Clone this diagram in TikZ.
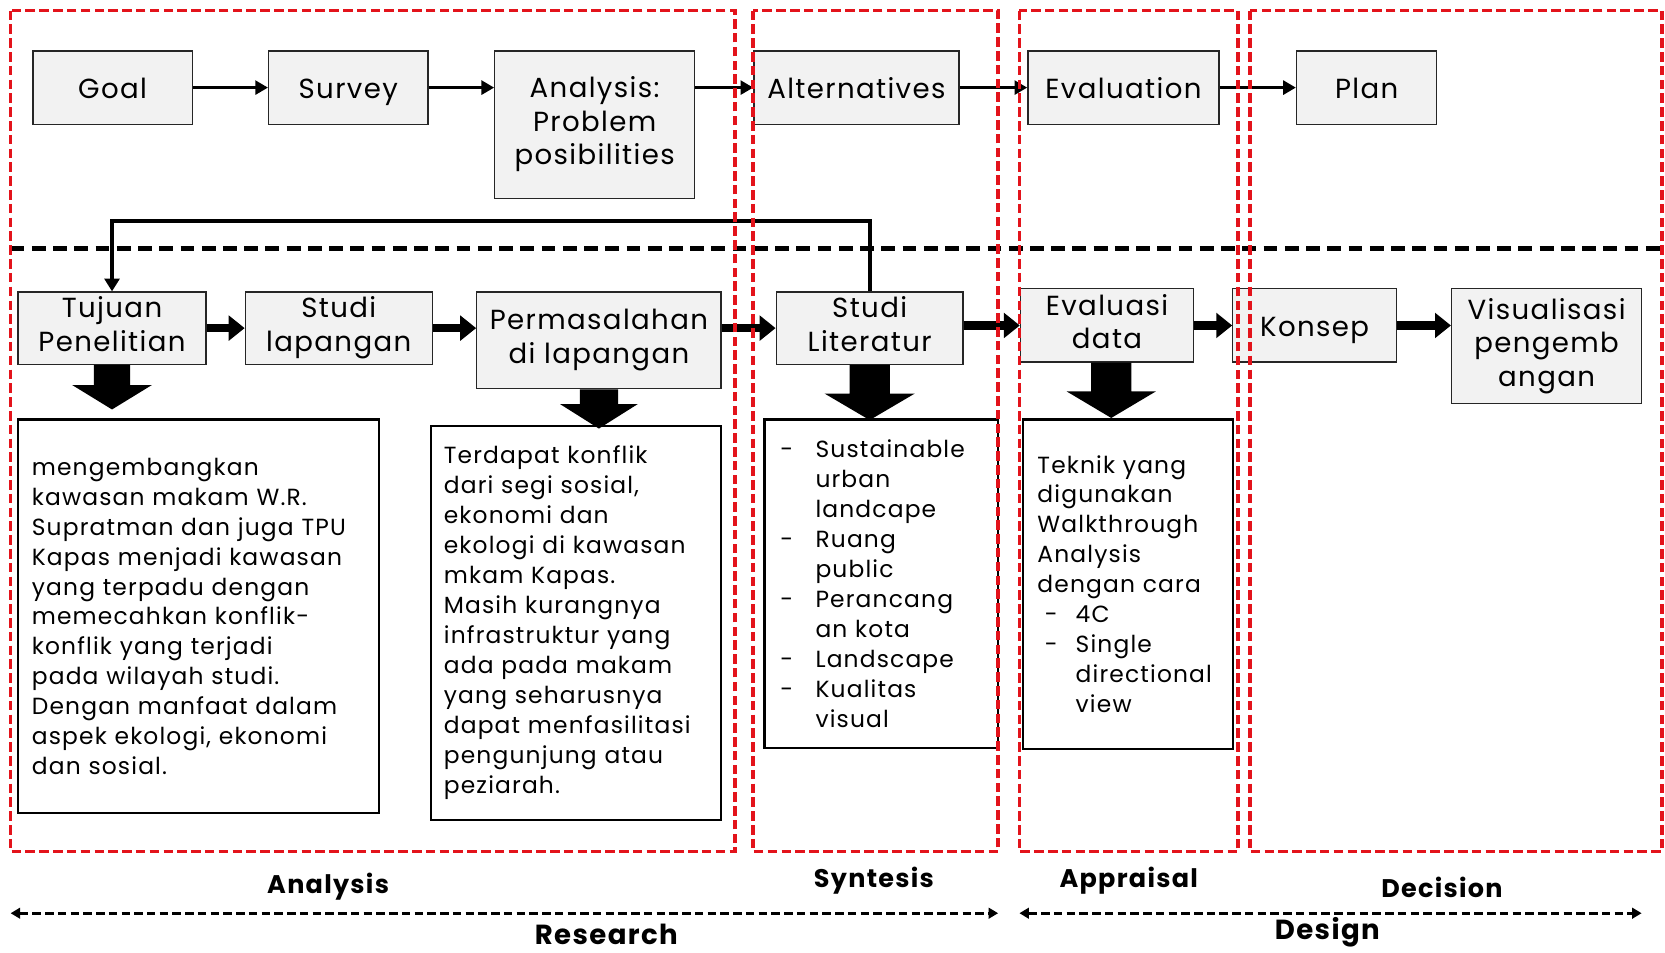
\documentclass[tikz,border=0pt]{standalone}
\usepackage{fontspec}
\setmainfont{Poppins}[LetterSpace=5]
\usetikzlibrary{arrows.meta,calc}
\definecolor{boxgray}{HTML}{F2F2F2}
\definecolor{dred}{HTML}{E3131B}
\newcommand\bdarrow[5]{%
\fill ($(#1)+({-#3/2},0)$) -- ($(#1)+({-#3/2},{#2-#5})$) -- ($(#1)+({-#4/2},{#2-#5})$) -- ($(#1)+(0,#2)$) -- ($(#1)+({#4/2},{#2-#5})$) -- ($(#1)+({#3/2},{#2-#5})$) -- ($(#1)+({#3/2},0)$) -- cycle;}
\begin{document}
\begin{tikzpicture}[x=1pt,y=-1pt,
  gbox/.style={draw=black!85, line width=1.2pt, fill=boxgray, align=center, inner sep=0pt, font=\fontsize{26}{31.5}\selectfont,
    execute at begin node=\rule{0pt}{28pt}, execute at end node=\rule[-7.5pt]{0pt}{7.5pt}},
  tbox/.style={draw=black, line width=2pt, fill=white, align=left, inner xsep=13pt, inner ysep=0pt, font=\fontsize{22}{28.2}\selectfont},
  tarr/.style={line width=3pt, -{Triangle[length=12pt,width=13pt]}},
  barr/.style={line width=8pt, -{Triangle[length=15pt,width=23pt]}},
  reddash/.style={draw=dred, line width=3.5pt, dash pattern=on 9pt off 4pt},
  blackdash/.style={draw=black, line width=4pt, dash pattern=on 13pt off 7pt},
  spanarrow/.style={line width=2.5pt, dash pattern=on 8pt off 4pt, {Triangle[length=9pt,width=10pt]}-{Triangle[length=9pt,width=10pt]}},
  lbl/.style={font=\fontsize{24}{28}\selectfont\bfseries, inner sep=0pt}
]
\useasboundingbox (0,0) rectangle (1568,897);
\fill[white] (0,0) rectangle (1568,897);

% middle black dashed line
\draw[blackdash] (10,234) -- (1565,234);

% top row
\node[gbox, minimum width=150pt, minimum height=69pt] (goal) at (106,82.5) {Goal};
\node[gbox, minimum width=150pt, minimum height=69pt] (survey) at (328,82.5) {Survey};
\node[gbox, minimum width=188pt, minimum height=139pt] (ana) at (560,117.5) {Analysis:\\Problem\\posibilities};
\node[gbox, minimum width=193pt, minimum height=69pt] (alt) at (806.5,82.5) {Alternatives};
\node[gbox, minimum width=180pt, minimum height=69pt] (evl) at (1058,82.5) {Evaluation};
\node[gbox, minimum width=132pt, minimum height=69pt] (plan) at (1287,82.5) {Plan};

\draw[tarr] (goal) -- (survey);
\draw[tarr] (survey.east) -- (survey.east -| ana.west);
\draw[tarr] (ana.east |- alt.west) -- (alt.west);
\draw[tarr] (alt) -- (evl);
\draw[tarr] (evl) -- (plan);

% bottom row
\node[gbox, minimum width=177pt, minimum height=68pt] (tuj) at (105.5,309) {Tujuan\\Penelitian};
\node[gbox, minimum width=176pt, minimum height=68pt] (stl) at (319,309) {Studi\\lapangan};
\node[gbox, minimum width=230pt, minimum height=91pt] (per) at (564,320.5) {Permasalahan\\di lapangan};
\node[gbox, minimum width=176pt, minimum height=68pt] (lit) at (819,309) {Studi\\Literatur};
\node[gbox, minimum width=163pt, minimum height=69pt] (eva) at (1042.5,306.5) {Evaluasi\\data};
\node[gbox, minimum width=154pt, minimum height=69pt] (kon) at (1238,306.5) {Konsep};
\node[gbox, minimum width=179pt, minimum height=108pt] (vis) at (1456.5,326) {Visualisasi\\pengemb\\angan};

\draw[barr] (tuj) -- (stl);
\draw[barr] (stl.east) -- (stl.east -| per.west);
\draw[barr] (per.east |- lit.west) -- (lit.west);
\draw[barr] (lit.east |- eva.west) -- (eva.west);
\draw[barr] (eva) -- (kon);
\draw[barr] (kon.east) -- (kon.east -| vis.west);

% feedback connector
\draw[line width=4pt, -{Triangle[length=12pt,width=14pt]}] (lit.north) -- ++(0,-66) -| (tuj.north);

% text boxes
\node[tbox, text width=314pt, minimum height=371pt] (b1) at (187,580.5) {mengembangkan\\kawasan makam W.R.\\Supratman dan juga TPU\\Kapas menjadi kawasan\\yang terpadu dengan\\memecahkan konflik-\\konflik yang terjadi\\pada wilayah studi.\\Dengan manfaat dalam\\aspek ekologi, ekonomi\\dan sosial.};
\node[tbox, inner xsep=12pt, text width=249pt, minimum height=371pt] (b2) at (542.5,586.5) {Terdapat konflik\\dari segi sosial,\\ekonomi dan\\ekologi di kawasan\\mkam Kapas.\\Masih kurangnya\\infrastruktur yang\\ada pada makam\\yang seharusnya\\dapat menfasilitasi\\pengunjung atau\\peziarah.};
\node[tbox, inner xsep=15pt, text width=190pt, minimum height=309pt] (b3) at (830,549.5) {\makebox[33pt][l]{-}Sustainable\\\hspace*{33pt}urban\\\hspace*{33pt}landcape\\\makebox[33pt][l]{-}Ruang\\\hspace*{33pt}public\\\makebox[33pt][l]{-}Perancang\\\hspace*{33pt}an kota\\\makebox[33pt][l]{-}Landscape\\\makebox[33pt][l]{-}Kualitas\\\hspace*{33pt}visual};
\node[tbox, inner xsep=14pt, text width=170pt, minimum height=310pt] (b4) at (1062,550) {Teknik yang\\digunakan\\Walkthrough\\Analysis\\dengan cara\\\hspace*{7pt}\makebox[29pt][l]{-}4C\\\hspace*{7pt}\makebox[29pt][l]{-}Single\\\hspace*{36pt}directional\\\hspace*{36pt}view};

% block down arrows
\bdarrow{tuj.south}{42}{34}{75}{23}
\bdarrow{per.south}{37}{36}{73}{23}
\bdarrow{lit.south}{52}{38}{85}{25}
\bdarrow{$(eva.south)+(4,0)$}{52}{38}{84}{25}

% red dashed stage boxes
\draw[reddash] (10,10) rectangle (692,802);
\draw[reddash] (709,10) rectangle (940,802);
\draw[reddash] (960,10) rectangle (1166,802);
\draw[reddash] (1177,10) rectangle (1565,802);

% stage labels
\node[lbl] (lana) at (309,835) {Analysis};
\node[lbl] (lsyn) at (823,829) {Syntesis};
\node[lbl] (lapp) at (1063,829) {Appraisal};
\node[lbl] (ldec) at (1358,836) {Decision};

% span arrows
\coordinate (r1) at (10,860);
\coordinate (r2) at (940,860);
\coordinate (d1) at (960,860);
\coordinate (d2) at (1546,860);
\draw[spanarrow] (r1) -- (r2);
\draw[spanarrow] (d1) -- (d2);
\node[lbl, font=\fontsize{26}{30}\selectfont\bfseries] (lres) at (571,880) {Research};
\node[lbl, font=\fontsize{26}{30}\selectfont\bfseries] (ldes) at (1250,878) {Design};
\end{tikzpicture}
\end{document}
